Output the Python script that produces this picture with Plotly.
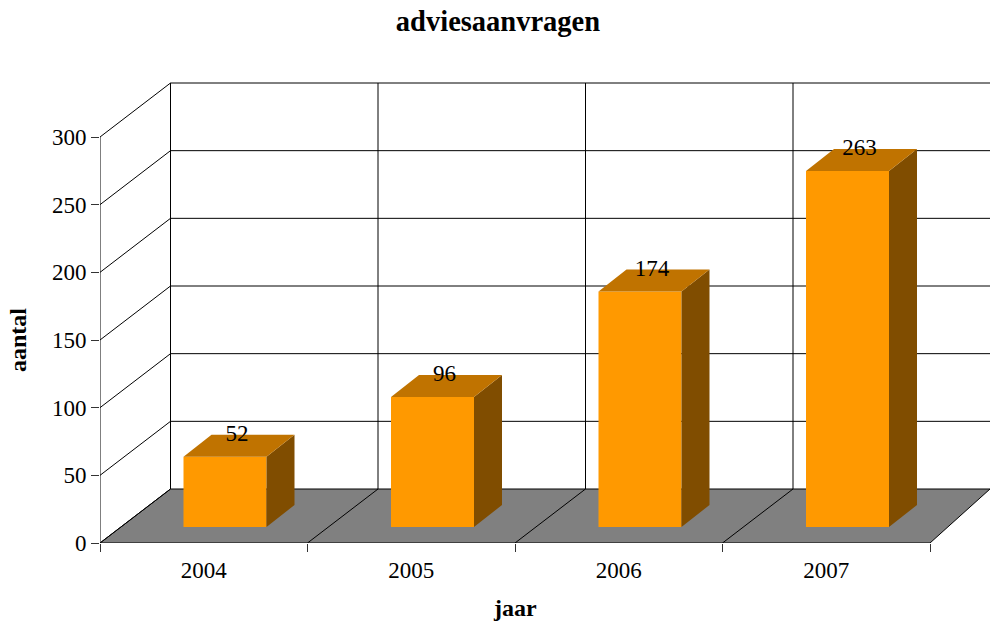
import plotly.graph_objects as go

# Data
years = ["2004", "2005", "2006", "2007"]
values = [52, 96, 174, 263]
y_ticks = [0, 50, 100, 150, 200, 250, 300]
title_text = "adviesaanvragen"
x_title = "jaar"
y_title = "aantal"

# Pseudo-3D geometry (axis units)
PLOT_W = 890
PLOT_H = 483
PX_X = 207.5          # px per category
PX_Y = 406 / 300      # px per value unit
DX = 70.5 / PX_X      # wall depth
DY = 54 / PX_Y
X_MAX = PLOT_W / PX_X
Y_MAX = PLOT_H / PX_Y
BAR_W = 83 / PX_X
BAR_DX = 28 / PX_X    # bar depth
BAR_DY = 22 / PX_Y
FRONT_DX = 21.25 / PX_X
FRONT_DY = 16 / PX_Y
LABEL_DX = 12 / PX_X
LABEL_DY = 21.5 / PX_Y

FONT = "Liberation Serif"
n = len(years)
top = max(y_ticks)

fig = go.Figure()

# floor and wall grid sit below the bars
shapes = [dict(type="path", xref="x", yref="y", layer="below",
               path=f"M 0 0 L {n} 0 L {X_MAX} {DY} L {DX} {DY} Z",
               fillcolor="#808080", line=dict(width=0))]
pairs = []
for t in y_ticks:
    pairs.append(((DX, t + DY), (X_MAX, t + DY)))
    pairs.append(((0, t), (DX, t + DY)))
for i in range(n):
    pairs.append(((i + DX, DY), (i + DX, top + DY)))
    pairs.append(((i, 0), (i + DX, DY)))
pairs.append(((0, 0), (0, top)))
pairs.append(((n, 0), (X_MAX, DY)))
pairs.append(((0, 0), (n, 0)))
for (x0, y0), (x1, y1) in pairs:
    shapes.append(dict(type="line", xref="x", yref="y", layer="below",
                       x0=x0, y0=y0, x1=x1, y1=y1,
                       line=dict(color="#000000", width=1)))

# bar parts
centers = [i + 0.5 + FRONT_DX for i in range(n)]
top_x, top_y, side_x, side_y = [], [], [], []
for c, v in zip(centers, values):
    l, r = c - BAR_W / 2, c + BAR_W / 2
    t, b = FRONT_DY + v, FRONT_DY
    top_x += [l, r, r + BAR_DX, l + BAR_DX, l, None]
    top_y += [t, t, t + BAR_DY, t + BAR_DY, t, None]
    side_x += [r, r + BAR_DX, r + BAR_DX, r, r, None]
    side_y += [b, b + BAR_DY, t + BAR_DY, t, b, None]

fig.add_trace(go.Bar(x=centers, y=values, base=[FRONT_DY] * n, width=[BAR_W] * n,
                     marker=dict(color="#FF9900", line=dict(width=0))))
fig.add_trace(go.Scatter(x=side_x, y=side_y, mode="lines", fill="toself",
                         fillcolor="#804D00", line=dict(width=0), hoverinfo="skip"))
fig.add_trace(go.Scatter(x=top_x, y=top_y, mode="lines", fill="toself",
                         fillcolor="#C07300", line=dict(width=0), hoverinfo="skip"))

# value labels
fig.add_trace(go.Scatter(x=[c + LABEL_DX for c in centers],
                         y=[FRONT_DY + v + LABEL_DY for v in values],
                         mode="text", text=[str(v) for v in values],
                         textposition="middle center",
                         textfont=dict(family=FONT, size=23, color="#000000"),
                         cliponaxis=False))

fig.update_layout(
    width=990, height=623, autosize=False,
    margin=dict(l=100, r=0, t=60, b=80, pad=0),
    paper_bgcolor="#FFFFFF", plot_bgcolor="#FFFFFF",
    showlegend=False,
    shapes=shapes,
    font=dict(family=FONT, size=23, color="#000000"),
    title=dict(text="<b>" + title_text + "</b>", x=498 / 990, xanchor="center",
               y=1 - 21 / 623, yanchor="middle",
               font=dict(family=FONT, size=28.5, color="#000000")),
    xaxis=dict(range=[0, X_MAX], tickmode="array",
               tickvals=[i + 0.5 for i in range(n)], ticktext=years,
               ticks="outside", ticklen=6, tickcolor="rgba(0,0,0,0)",
               showgrid=False, zeroline=False, showline=False,
               tickfont=dict(family=FONT, size=23),
               minor=dict(tickmode="array", tickvals=list(range(n + 1)), ticks="outside",
                          ticklen=8, tickwidth=1, tickcolor="#333333", showgrid=False)),
    yaxis=dict(range=[0, Y_MAX], tickmode="array", tickvals=y_ticks,
               ticktext=[str(t) for t in y_ticks],
               ticks="outside", ticklen=8, tickwidth=1, tickcolor="#333333",
               showgrid=False, zeroline=False, showline=False,
               tickfont=dict(family=FONT, size=23)),
    annotations=[
        dict(text="<b>" + x_title + "</b>", x=(515 - 100) / PLOT_W, y=(543 - 608) / PLOT_H,
             xref="paper", yref="paper", showarrow=False, yanchor="middle",
             font=dict(family=FONT, size=24)),
        dict(text="<b>" + y_title + "</b>", x=(18 - 100) / PLOT_W, y=(543 - 340) / PLOT_H,
             xref="paper", yref="paper", showarrow=False, textangle=-90, xanchor="center",
             font=dict(family=FONT, size=24)),
    ],
)

fig.write_html("out.html", post_script="document.body.style.margin='0';",
               config=dict(displayModeBar=False))
